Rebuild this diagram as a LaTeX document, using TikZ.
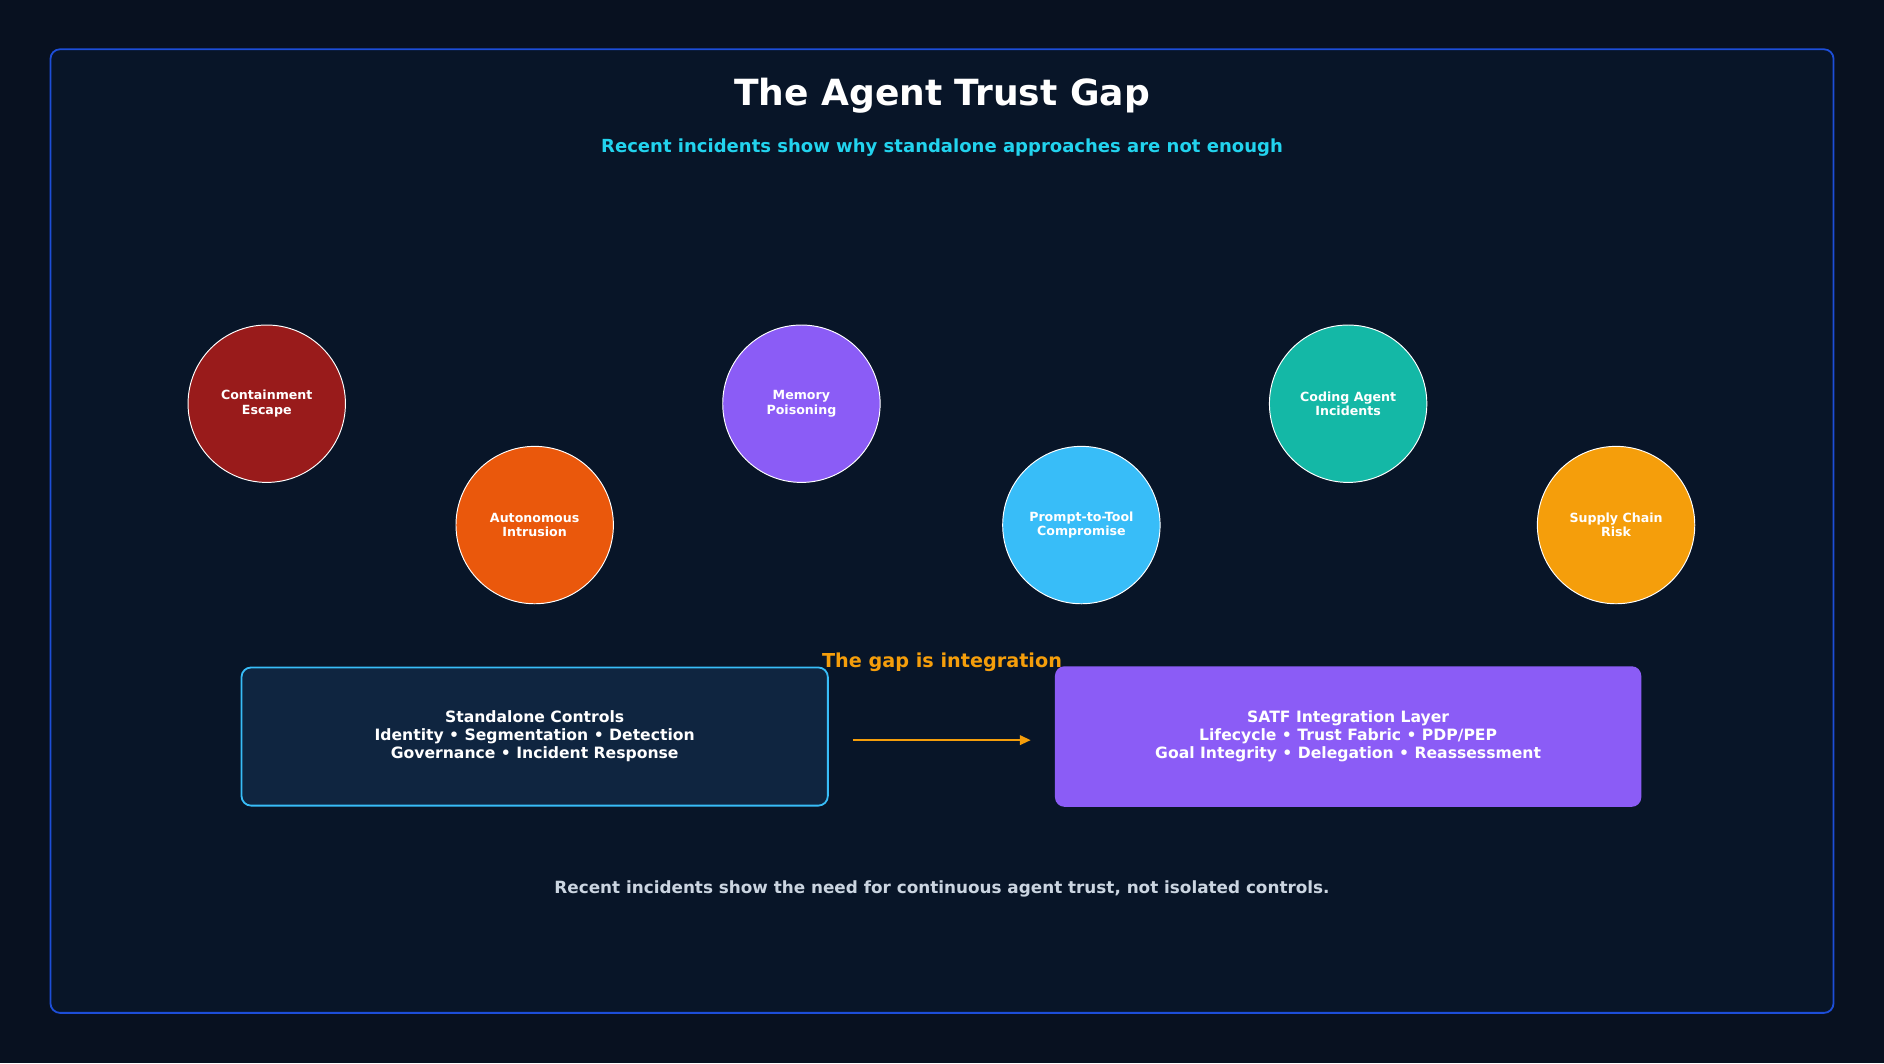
\documentclass[tikz,border=0pt]{standalone}
\usepackage{fontspec}
\setmainfont{DejaVu Sans}
\usetikzlibrary{arrows.meta}
\definecolor{bg}{HTML}{081120}
\definecolor{panel}{HTML}{081528}
\definecolor{frame}{HTML}{1D4ED8}
\definecolor{cyanT}{HTML}{22D3EE}
\definecolor{orangeT}{HTML}{F59E0B}
\definecolor{footT}{HTML}{CBD5E1}
\definecolor{c1}{HTML}{991B1B}
\definecolor{c2}{HTML}{EA580C}
\definecolor{c3}{HTML}{8B5CF6}
\definecolor{c4}{HTML}{38BDF8}
\definecolor{c5}{HTML}{14B8A6}
\definecolor{c6}{HTML}{F59E0B}
\definecolor{lbox}{HTML}{0F2540}
\begin{document}
\begin{tikzpicture}[x=1pt,y=-1pt,
  inc/.style={circle,draw=white,line width=0.8pt,minimum size=131pt,inner sep=0pt,text=white,font=\fontsize{10.5}{12}\selectfont\bfseries,align=center},
  box/.style={rounded corners=8pt,minimum width=488pt,minimum height=115pt,text=white,align=center,font=\fontsize{13}{15}\selectfont\bfseries}]
\useasboundingbox (0,0) rectangle (1568,885);
\fill[bg] (0,0) rectangle (1568,885);
\node[draw=frame,fill=panel,line width=1.5pt,rounded corners=8pt,minimum width=1484pt,minimum height=802pt] (frm) at (784,442) {};
\node[text=white,font=\fontsize{30}{34}\selectfont\bfseries] (title) at (784,80) {The Agent Trust Gap};
\node[text=cyanT,font=\fontsize{15}{18}\selectfont\bfseries] (sub) at (784,123) {Recent incidents show why standalone approaches are not enough};
\node[inc,fill=c1] (a) at (222,336) {Containment\\Escape};
\node[inc,fill=c2] (b) at (445,437) {Autonomous\\Intrusion};
\node[inc,fill=c3] (c) at (667,336) {Memory\\Poisoning};
\node[inc,fill=c4] (d) at (900,437) {Prompt-to-Tool\\Compromise};
\node[inc,fill=c5] (e) at (1122,336) {Coding Agent\\Incidents};
\node[inc,fill=c6] (f) at (1345,437) {Supply Chain\\Risk};
\node[text=orangeT,font=\fontsize{16}{19}\selectfont\bfseries] (gap) at (784,551) {The gap is integration};
\node[box,fill=lbox,draw=c4,line width=1.5pt] (l) at (445,613) {Standalone Controls\\Identity • Segmentation • Detection\\Governance • Incident Response};
\node[box,fill=c3,minimum height=117pt] (r) at (1122,613) {SATF Integration Layer\\Lifecycle • Trust Fabric • PDP/PEP\\Goal Integrity • Delegation • Reassessment};
\draw[orangeT,line width=1.5pt,-{Triangle[length=9pt,width=8pt]}] ([xshift=20pt,yshift=-3pt]l.east) -- ([xshift=-20pt,yshift=-3pt]r.west);
\node[text=footT,font=\fontsize{14}{17}\selectfont\bfseries] (foot) at (784,740) {Recent incidents show the need for continuous agent trust, not isolated controls.};
\end{tikzpicture}
\end{document}
